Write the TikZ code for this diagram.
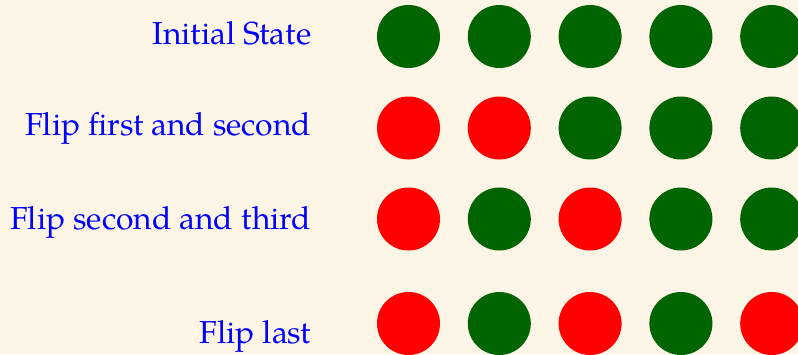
\documentclass[tikz,border=0pt]{standalone}
\usepackage{fontspec}
\setmainfont{texgyrepagella-regular.otf}
\definecolor{bgc}{RGB}{253,245,230}
\definecolor{gr}{RGB}{0,100,0}
\definecolor{rd}{RGB}{255,0,0}
\definecolor{bl}{RGB}{0,0,255}
\begin{document}
\begin{tikzpicture}[x=1pt,y=-1pt,
  dot/.style={circle,minimum size=63pt,inner sep=0pt,draw=none},
  on/.style={dot,fill=gr},
  off/.style={dot,fill=rd},
  lbl/.style={anchor=base east,inner sep=0pt,text=bl,font=\fontsize{31.8}{36}\selectfont}]
\fill[bgc] (0,0) rectangle (798,354);
\clip (0,0) rectangle (798,354);
\useasboundingbox (0,0) rectangle (798,354);
\node[lbl] (l1) at (311.5,44.3) {Initial State};
\node[lbl] (l2) at (311.5,135) {Flip first and second};
\node[lbl] (l3) at (311.5,229.3) {Flip second and third};
\node[lbl] (l4) at (311.5,343.3) {Flip last};
\foreach \c/\x in {1/408.5,2/499.3,3/590.1,4/680.9,5/771.7}{
  \node[on] (a\c) at (\x,36.5) {};
}
\node[off] (b1) at (408.5,128) {};
\node[off] (b2) at (499.3,128) {};
\node[on]  (b3) at (590.1,128) {};
\node[on]  (b4) at (680.9,128) {};
\node[on]  (b5) at (771.7,128) {};
\node[off] (c1) at (408.5,219) {};
\node[on]  (c2) at (499.3,219) {};
\node[off] (c3) at (590.1,219) {};
\node[on]  (c4) at (680.9,219) {};
\node[on]  (c5) at (771.7,219) {};
\node[off] (d1) at (408.5,323.5) {};
\node[on]  (d2) at (499.3,323.5) {};
\node[off] (d3) at (590.1,323.5) {};
\node[on]  (d4) at (680.9,323.5) {};
\node[off] (d5) at (771.7,323.5) {};
\end{tikzpicture}
\end{document}
